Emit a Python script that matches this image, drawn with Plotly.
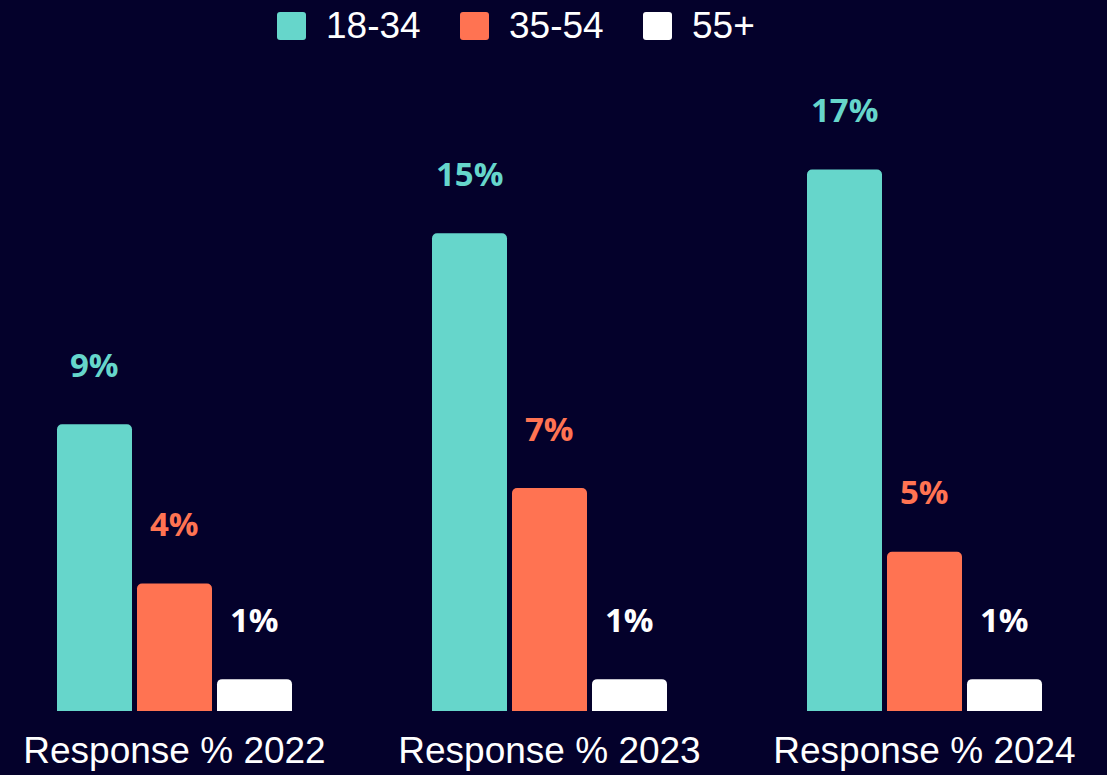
import plotly.graph_objects as go

# Survey response share by age group, per year
categories = ["Response % 2022", "Response % 2023", "Response % 2024"]
age_groups = ["18-34", "35-54", "55+"]
share_18_34 = [9, 15, 17]
share_35_54 = [4, 7, 5]
share_55_plus = [1, 1, 1]

series = [share_18_34, share_35_54, share_55_plus]
colors = ["#66D6CB", "#FF7352", "#FFFFFF"]
BG = "#04012B"

W, H = 1107, 775
M_TOP, M_BOT = 70, 64
PLOT_H = H - M_TOP - M_BOT

BARGAP = 0.36
BARGROUPGAP = 0.0625

fig = go.Figure()
for name, vals, col in zip(age_groups, series, colors):
    fig.add_trace(go.Bar(
        x=categories, y=vals, name=name, marker_color=col,
        marker_line_width=0, showlegend=False, hoverinfo="skip",
    ))

# value labels floating above each bar
slot = (1 - BARGAP) / len(series)
for i, (vals, col) in enumerate(zip(series, colors)):
    for j, v in enumerate(vals):
        fig.add_annotation(
            x=j + (i - 1) * slot, y=v, xref="x", yref="y",
            text=f"<b>{v}%</b>", showarrow=False,
            yanchor="middle", yshift=60,
            font=dict(family="Open Sans", size=33, color=col),
        )


def px_x(px):
    return px / W


def px_y(py):
    # convert a pixel row (from top of figure) into plot-area paper units
    return (H - M_BOT - py) / PLOT_H


# legend drawn as rounded squares with labels
legend_x = [277, 460, 643]
for name, col, x0 in zip(age_groups, colors, legend_x):
    x1, y0, y1, r = x0 + 29, 12, 40, 3
    X0, X1 = px_x(x0), px_x(x1)
    Y0, Y1 = px_y(y0), px_y(y1)
    RX, RY = r / W, r / PLOT_H
    path = (f"M{X0+RX},{Y0} L{X1-RX},{Y0} Q{X1},{Y0} {X1},{Y0-RY} "
            f"L{X1},{Y1+RY} Q{X1},{Y1} {X1-RX},{Y1} L{X0+RX},{Y1} "
            f"Q{X0},{Y1} {X0},{Y1+RY} L{X0},{Y0-RY} Q{X0},{Y0} {X0+RX},{Y0} Z")
    fig.add_shape(type="path", path=path, xref="paper", yref="paper",
                  fillcolor=col, line_width=0)
    fig.add_annotation(
        x=px_x(x0 + 47), y=px_y(26), xref="paper", yref="paper",
        text=name, showarrow=False, xanchor="left", yanchor="middle",
        font=dict(family="Liberation Sans, Arial", size=37, color="#FFFFFF"),
    )

fig.update_layout(
    width=W, height=H,
    paper_bgcolor=BG, plot_bgcolor=BG,
    margin=dict(l=0, r=0, t=M_TOP, b=M_BOT),
    barmode="group", bargap=BARGAP, bargroupgap=BARGROUPGAP,
    barcornerradius=5,
    showlegend=False,
    xaxis=dict(
        range=[-174.5 / 375, (W - 174.5) / 375],
        showgrid=False, zeroline=False, showline=False, ticks="",
        ticklabelstandoff=14,
        tickfont=dict(family="Liberation Sans, Arial", size=37, color="#FFFFFF"),
    ),
    yaxis=dict(range=[0, PLOT_H / 31.85], visible=False, showgrid=False),
)

fig.write_html("out.html")
